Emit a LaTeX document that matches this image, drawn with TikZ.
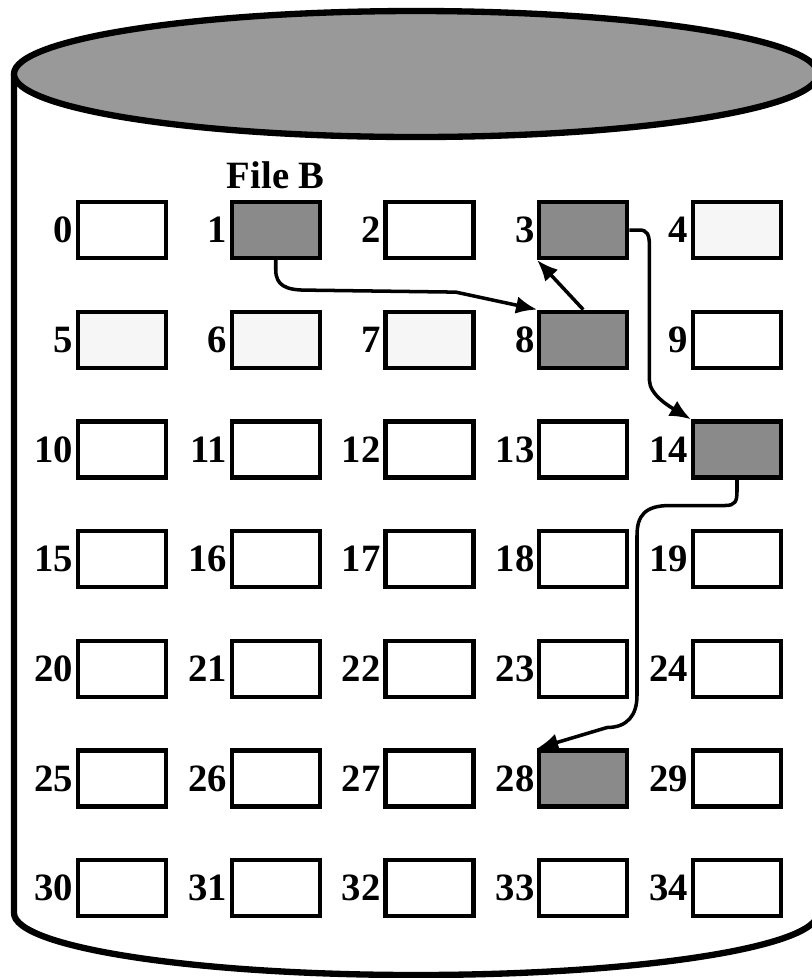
\documentclass[tikz,border=0pt]{standalone}
\usepackage{fontspec}
\setmainfont{Liberation Serif}
\usetikzlibrary{arrows.meta, positioning}
\definecolor{diskgray}{RGB}{153, 153, 153}
\definecolor{usedgray}{RGB}{138, 138, 138}
\definecolor{freegray}{RGB}{246, 246, 246}

\begin{document}
\begin{tikzpicture}[>={Latex[length=6pt, width=5pt]},
  block/.style={draw=black, line width=1.2pt, minimum width=0.88cm, minimum height=0.56cm, inner sep=0pt},
  num/.style={anchor=east, inner sep=0.6pt, font=\fontsize{11}{13}\selectfont\bfseries},
  link/.style={->, line width=1pt}]

\useasboundingbox (0,0) rectangle (8.12,-9.78);

% --- Disco (cilindro) ---
\draw[line width=1.8pt, fill=white] (0.14,-0.74) -- (0.14,-9.13)
  arc[start angle=180, end angle=360, x radius=4.02, y radius=0.62] -- (8.18,-0.74);
\draw[line width=1.8pt, fill=diskgray] (4.16,-0.74) ellipse [x radius=4.02, y radius=0.63];

% --- Bloques 0..34 ---
\foreach \n/\fc in {0/white, 1/usedgray, 2/white, 3/usedgray, 4/freegray,
                    5/freegray, 6/freegray, 7/freegray, 8/usedgray, 9/white,
                    10/white, 11/white, 12/white, 13/white, 14/usedgray,
                    15/white, 16/white, 17/white, 18/white, 19/white,
                    20/white, 21/white, 22/white, 23/white, 24/white,
                    25/white, 26/white, 27/white, 28/usedgray, 29/white,
                    30/white, 31/white, 32/white, 33/white, 34/white} {
    \pgfmathtruncatemacro{\col}{mod(\n,5)}
    \pgfmathtruncatemacro{\row}{div(\n,5)}
    \node[block, fill=\fc] (b\n) at ({1.22+1.5375*\col}, {-2.30-1.097*\row}) {};
    \node[num] (l\n) at (b\n.west) {\n};
}

% --- Etiqueta del fichero ---
\node[above=0.1cm of b1, inner sep=0pt, font=\fontsize{11}{13}\selectfont\bfseries] (fileB) {File B};

% --- Cadena de bloques: 1 -> 8 -> 3 -> 14 -> 28 ---
\draw[link] (b1.south) -- ++(0,-0.1) .. controls +(0,-0.15) and +(-0.2,0) .. ++(0.3,-0.2)
  -- ++(1.5,-0.02) -- (b8.north west);
\draw[link] (b8.north) -- (b3.south west);
\draw[link] (b3.east) -- ++(0.1,0) .. controls +(0.08,0) and +(0,0.1) .. ++(0.1,-0.15)
  -- ++(0,-1.35) .. controls +(0,-0.15) and +(-0.2,0.12) .. (b14.north west);
\draw[link] (b14.south) -- ++(0,-0.12) .. controls +(0,-0.1) and +(0.1,0) .. ++(-0.12,-0.14)
  -- ++(-0.55,0) .. controls +(-0.25,0) and +(0,0.2) .. ++(-0.33,-0.3)
  -- ++(0,-1.6) .. controls +(0,-0.2) and +(0.2,0) .. ++(-0.3,-0.32) -- (b28.north west);

\end{tikzpicture}
\end{document}
